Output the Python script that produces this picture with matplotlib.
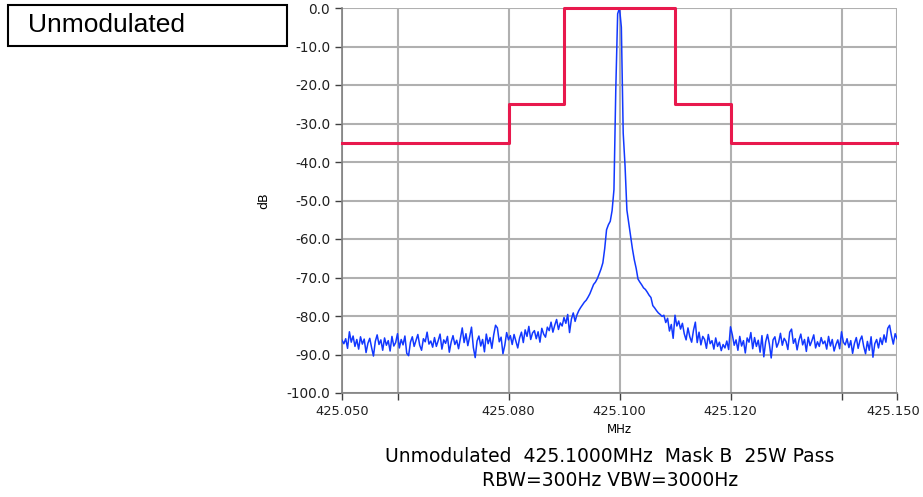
import numpy as np
import matplotlib
matplotlib.use('Agg')
import matplotlib.pyplot as plt
import matplotlib.transforms as mtransforms
from matplotlib.patches import Rectangle

# mask limits (MHz, dB)
mask_freq = [425.050, 425.080, 425.080, 425.090, 425.090, 425.110, 425.110, 425.120, 425.120, 425.150]
mask_db = [-35, -35, -25, -25, 0, 0, -25, -25, -35, -35]

levels_db = [
    -86.3, -87.2, -85.9, -88.4, -84.1, -86.8, -85.2, -87.9, -86.1, -88.6,
    -85.4, -87.3, -86.0, -89.5, -87.1, -85.8, -88.2, -90.4, -86.6, -84.9,
    -87.4, -86.2, -88.9, -85.7, -87.6, -86.4, -89.1, -85.3, -87.8, -86.9,
    -84.6, -88.3, -86.1, -87.5, -85.2, -89.7, -90.3, -86.8, -85.4, -87.9,
    -86.3, -84.8, -87.6, -88.9, -85.9, -86.7, -84.2, -87.3, -86.5, -88.1,
    -85.6, -87.9, -86.4, -84.7, -88.6, -86.2, -87.1, -85.3, -89.4, -86.8,
    -85.1, -87.4, -86.3, -88.5, -85.8, -83.1, -86.9, -84.6, -87.7, -85.4,
    -82.9, -88.2, -90.8, -86.5, -85.2, -87.8, -86.1, -89.3, -84.7, -87.2,
    -85.6, -88.4, -84.9, -82.4, -83.1, -86.7, -85.5, -89.8, -87.6, -84.3,
    -86.2, -85.1, -87.4, -84.8, -86.6, -88.3, -85.7, -84.2, -86.9, -83.6,
    -85.3, -82.7, -86.1, -84.4, -83.8, -85.9, -84.1, -86.8, -83.2, -84.7,
    -85.5, -82.9, -83.8, -81.6, -84.2, -82.4, -80.9, -83.5, -81.8, -82.6,
    -80.4, -81.9, -79.6, -84.3, -80.8, -79.2, -81.4, -79.7, -78.6, -77.8,
    -77.1, -76.4, -75.9, -75.1, -74.2, -73.0, -71.8, -71.2, -70.3, -69.1,
    -67.8, -66.2, -62.5, -57.6, -56.3, -55.4, -52.6, -47.2, -21.0, -1.5,
    0.0,
    -5.0, -32.5, -41.0, -52.5, -55.8, -59.3, -62.6, -65.4, -67.6,
    -70.4, -71.2, -71.9, -72.7, -73.1, -73.8, -74.6, -75.2, -77.3, -77.9,
    -78.6, -79.2, -79.6, -80.1, -79.8, -81.7, -80.6, -83.9, -82.2, -85.8,
    -79.8, -82.6, -81.3, -83.4, -81.9, -84.6, -86.2, -83.1, -85.4, -86.8,
    -83.7, -81.6, -86.9, -84.2, -87.5, -85.3, -86.1, -88.4, -84.8, -87.2,
    -86.4, -88.6, -85.7, -87.9, -86.8, -89.0, -87.4, -88.3, -86.5, -88.7,
    -82.8, -84.9, -87.6, -86.2, -88.9, -85.3, -87.8, -86.4, -89.6, -85.7,
    -86.8, -84.3, -88.5, -85.6, -87.9, -86.3, -89.4, -85.1, -90.6, -86.7,
    -84.8, -87.3, -90.9, -86.2, -85.4, -88.1, -86.9, -84.5, -87.6, -85.8,
    -86.6, -88.7, -84.2, -83.4, -87.1, -85.9, -88.8, -86.3, -84.7, -87.5,
    -86.1, -89.2, -85.5, -87.7, -86.4, -84.9, -88.3, -86.7, -87.9, -85.6,
    -87.2, -86.5, -88.6, -85.3, -87.8, -86.1, -89.1, -87.4, -86.2, -88.5,
    -84.1, -86.8, -87.5, -85.9, -88.2, -86.4, -89.7, -87.1, -85.6, -88.4,
    -86.3, -85.2, -87.9, -89.8, -86.6, -88.9, -85.4, -90.7, -87.2, -86.1,
    -88.3, -85.7, -87.4, -84.9, -86.8, -83.2, -82.4, -85.1, -87.3, -84.6,
    -85.9,
]
freq = np.linspace(425.050, 425.150, len(levels_db))

xticks = [425.050, 425.060, 425.080, 425.100, 425.120, 425.140, 425.150]
xticklabels = ['425.050', '', '425.080', '425.100', '425.120', '', '425.150']
yticks = list(range(0, -101, -10))

fig = plt.figure(figsize=(9.23, 4.97), dpi=100)
ax = fig.add_axes([342/923, 104/497, 555/923, 385/497])

ax.plot(freq, levels_db, color='#1238ff', lw=1.1, zorder=3)
ax.plot(mask_freq, mask_db, color='#e8194d', lw=2.2, zorder=4, clip_on=False)

ax.set_xlim(425.050, 425.150)
ax.set_ylim(-100, 0)
ax.set_xticks(xticks)
ax.set_xticklabels(xticklabels)
ax.set_yticks(yticks)
ax.set_yticklabels(['%.1f' % v for v in yticks])
ax.grid(True, color='#b0b0b0', lw=1.5)
ax.set_axisbelow(True)
for s in ['top', 'right']:
    ax.spines[s].set_visible(False)
for s in ['left', 'bottom']:
    ax.spines[s].set_color('#808080')
    ax.spines[s].set_linewidth(1.2)
ax.tick_params(labelcolor='#202020', labelsize=9.8, length=5, width=1, direction='out', color='#404040')
ax.tick_params(axis='x', labelsize=9.4)
# last label sits at the figure edge, nudge it in a bit
last = ax.get_xticklabels()[-1]
last.set_transform(last.get_transform() + mtransforms.ScaledTranslation(-4/100, 0, fig.dpi_scale_trans))
ax.set_xlabel('MHz', fontsize=8.5, labelpad=4)
ax.set_ylabel('dB', fontsize=9, labelpad=12)

fig.text(0.661, 1 - 457/497, 'Unmodulated  425.1000MHz  Mask B  25W Pass',
         ha='center', va='center', fontsize=13.5)
fig.text(0.661, 1 - 480/497, 'RBW=300Hz VBW=3000Hz', ha='center', va='center', fontsize=13.5)

# title box top-left
fig.patches.append(Rectangle((8/923, 1 - 46/497), 279/923, 41/497, transform=fig.transFigure,
                             fill=False, edgecolor='black', lw=1.5))
fig.text(28/923, 1 - 25/497, 'Unmodulated', family='Liberation Sans', fontsize=19,
         ha='left', va='center')

fig.savefig('out.png', dpi=100)
